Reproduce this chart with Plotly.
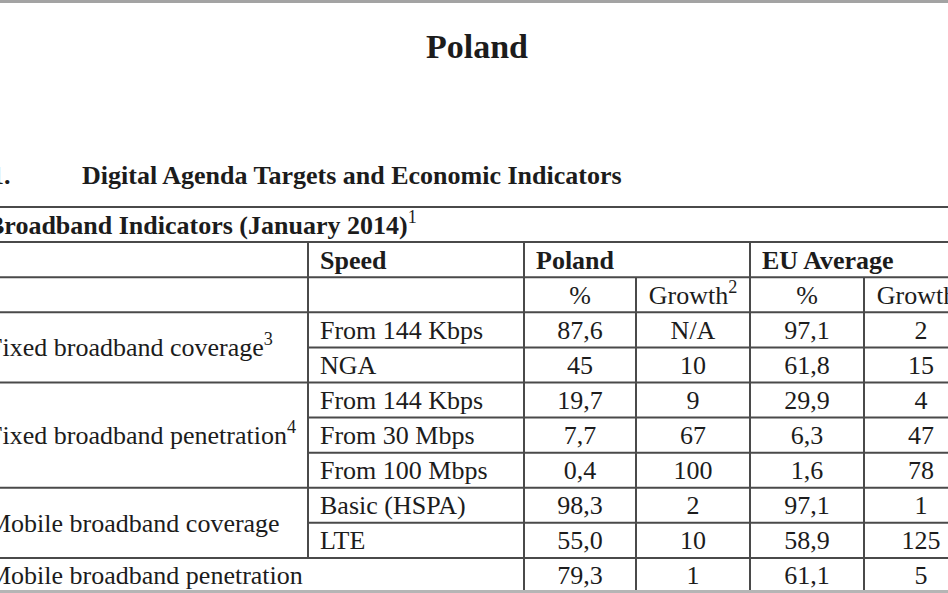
import plotly.graph_objects as go

# table data (Broadband Indicators, January 2014)
groups = ["Fixed broadband coverage<sup>3</sup>",
          "Fixed broadband penetration<sup>4</sup>",
          "Mobile broadband coverage",
          "Mobile broadband penetration"]
group_rows = [2, 3, 2, 1]
speeds = ["From 144 Kbps", "NGA", "From 144 Kbps", "From 30 Mbps",
          "From 100 Mbps", "Basic (HSPA)", "LTE", ""]
poland_pct = ["87,6", "45", "19,7", "7,7", "0,4", "98,3", "55,0", "79,3"]
poland_growth = ["N/A", "10", "9", "67", "100", "2", "10", "1"]
eu_pct = ["97,1", "61,8", "29,9", "6,3", "1,6", "97,1", "58,9", "61,1"]
eu_growth = ["2", "15", "4", "47", "78", "1", "125", "5"]
value_headers = ["%", "Growth<sup>2</sup>", "%", "Growth<sup>2</sup>"]

# layout: x in pixels, y in table rows (row 0 = table title)
col_edges = [-18, 308, 524, 636, 750, 864, 978]
col_centers = [(col_edges[i] + col_edges[i + 1]) / 2 for i in range(2, 6)]
pad = 12
first = 3
n = len(speeds)
bottom = first + n
dy = 0.07  # serif text sits a little low in its cell

FONT = "Liberation Serif"
INK = "#1c1c1c"
LINE = "#4a4a4a"
body = dict(family=FONT, size=26, color=INK)
bold = dict(family=FONT, size=26, color=INK)

fig = go.Figure()

def add_text(xs, ys, texts, pos, font):
    keep = [(x, y, t) for x, y, t in zip(xs, ys, texts) if t]
    fig.add_trace(go.Scatter(x=[k[0] for k in keep], y=[k[1] + dy for k in keep],
                             text=[k[2] for k in keep], mode="text",
                             textposition=pos, textfont=font,
                             hoverinfo="skip", cliponaxis=True,
                             showlegend=False))

# page headings
add_text([477], [-4.55], ["<b>Poland</b>"], "middle center",
         dict(family=FONT, size=34, color=INK))
add_text([-9, 82], [-0.9, -0.9],
         ["<b>1.</b>", "<b>Digital Agenda Targets and Economic Indicators</b>"],
         "middle right", bold)
add_text([-13], [0.5], ["<b>Broadband Indicators (January 2014)</b><sup>1</sup>"],
         "middle right", bold)

# header rows
add_text([col_edges[1] + pad, col_edges[2] + pad, col_edges[4] + pad],
         [1.5, 1.5, 1.5],
         ["<b>Speed</b>", "<b>Poland</b>", "<b>EU Average</b>"],
         "middle right", bold)
add_text(col_centers, [2.5] * 4, value_headers, "middle center", body)

# group labels (merged cells)
gy = []
start = first
for r in group_rows:
    gy.append(start + r / 2)
    start += r
add_text([-12] * len(groups), gy, groups, "middle right", body)

# speed column and values
ys = [first + i + 0.5 for i in range(n)]
add_text([col_edges[1] + pad] * n, ys, speeds, "middle right", body)
for cx, vals in zip(col_centers, [poland_pct, poland_growth, eu_pct, eu_growth]):
    add_text([cx] * n, ys, vals, "middle center", body)

# grid lines
def hline(y, x0, x1):
    fig.add_shape(type="line", xref="x", yref="y", x0=x0, x1=x1, y0=y, y1=y,
                  line=dict(color=LINE, width=2))

def vline(x, y0, y1):
    fig.add_shape(type="line", xref="x", yref="y", x0=x, x1=x, y0=y0, y1=y1,
                  line=dict(color=LINE, width=2))

for y in [0, 1, 2, 3]:
    hline(y, col_edges[0], col_edges[-1])
start = first
for r in group_rows:
    for k in range(1, r):
        hline(start + k, col_edges[1], col_edges[-1])
    start += r
    hline(start, col_edges[0], col_edges[-1])

vline(col_edges[1], 1, bottom - 1)
vline(col_edges[2], 1, bottom)
vline(col_edges[4], 1, bottom)
vline(col_edges[3], 2, bottom)
vline(col_edges[5], 2, bottom)

# window edges
fig.add_shape(type="rect", xref="paper", yref="paper", x0=0, x1=1,
              y0=1 - 3 / 593, y1=1, fillcolor="#a3a3a3", line_width=0)
fig.add_shape(type="rect", xref="paper", yref="paper", x0=0, x1=1,
              y0=0, y1=3 / 593, fillcolor="#b5b5b5", line_width=0)

fig.update_layout(
    width=948, height=593,
    margin=dict(l=0, r=0, t=0, b=0),
    paper_bgcolor="white", plot_bgcolor="white",
    xaxis=dict(range=[0, 948], visible=False, fixedrange=True),
    yaxis=dict(range=[11.0, -5.9], visible=False, fixedrange=True),
)

# drop the page's default body margin so the figure fills the window
fig.write_html("out.html", config={"displayModeBar": False},
               post_script="document.body.style.margin='0';"
                           "document.body.style.overflow='hidden';")
